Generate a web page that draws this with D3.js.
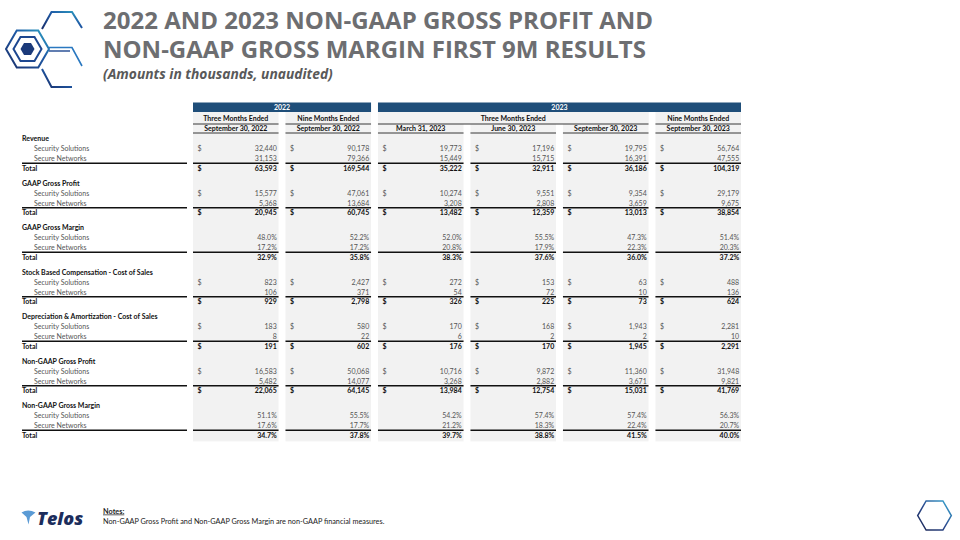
<!DOCTYPE html>
<html><head><meta charset="utf-8">
<script src="https://cdn.jsdelivr.net/npm/d3@7"></script>
<style>
html,body{margin:0;padding:0;background:#fff;}
svg{display:block;}
</style></head>
<body><svg id="c" width="960" height="540"></svg>
<script>
// ---------- data ----------
const titleLines = ["2022 AND 2023 NON-GAAP GROSS PROFIT AND", "NON-GAAP GROSS MARGIN FIRST 9M RESULTS"];
const years = ["2022", "2023"];
const periodLabels = ["Three Months Ended", "Nine Months Ended", "Three Months Ended", "Nine Months Ended"];
const dateLabels = ["September 30, 2022", "September 30, 2022", "March 31, 2023", "June 30, 2023", "September 30, 2023", "September 30, 2023"];
const sections = ["Revenue", "GAAP Gross Profit", "GAAP Gross Margin", "Stock Based Compensation - Cost of Sales", "Depreciation & Amortization - Cost of Sales", "Non-GAAP Gross Profit", "Non-GAAP Gross Margin"];
const subRows = ["Security Solutions", "Secure Networks"];
const sectionIsPct = [false, false, true, false, false, false, true];

const revenueSS = [32440, 90178, 19773, 17196, 19795, 56764];
const revenueSN = [31153, 79366, 15449, 15715, 16391, 47555];
const revenueTotal = [63593, 169544, 35222, 32911, 36186, 104319];
const gaapGPSS = [15577, 47061, 10274, 9551, 9354, 29179];
const gaapGPSN = [5368, 13684, 3208, 2808, 3659, 9675];
const gaapGPTotal = [20945, 60745, 13482, 12359, 13013, 38854];
const gaapGMSS = [48.0, 52.2, 52.0, 55.5, 47.3, 51.4];
const gaapGMSN = [17.2, 17.2, 20.8, 17.9, 22.3, 20.3];
const gaapGMTotal = [32.9, 35.8, 38.3, 37.6, 36.0, 37.2];
const sbcSS = [823, 2427, 272, 153, 63, 488];
const sbcSN = [106, 371, 54, 72, 10, 136];
const sbcTotal = [929, 2798, 326, 225, 73, 624];
const daSS = [183, 580, 170, 168, 1943, 2281];
const daSN = [8, 22, 6, 2, 2, 10];
const daTotal = [191, 602, 176, 170, 1945, 2291];
const ngGPSS = [16583, 50068, 10716, 9872, 11360, 31948];
const ngGPSN = [5482, 14077, 3268, 2882, 3671, 9821];
const ngGPTotal = [22065, 64145, 13984, 12754, 15031, 41769];
const ngGMSS = [51.1, 55.5, 54.2, 57.4, 57.4, 56.3];
const ngGMSN = [17.6, 17.7, 21.2, 18.3, 22.4, 20.7];
const ngGMTotal = [34.7, 37.8, 39.7, 38.8, 41.5, 40.0];

const sectionValues = [
  [revenueSS, revenueSN, revenueTotal],
  [gaapGPSS, gaapGPSN, gaapGPTotal],
  [gaapGMSS, gaapGMSN, gaapGMTotal],
  [sbcSS, sbcSN, sbcTotal],
  [daSS, daSN, daTotal],
  [ngGPSS, ngGPSN, ngGPTotal],
  [ngGMSS, ngGMSN, ngGMTotal]
];

// ---------- drawing ----------
const svg = d3.select("#c");
const FONT = "Lato, 'Noto Sans', sans-serif";
const fs = 7;

const defs = svg.append("defs");
const g1 = defs.append("linearGradient").attr("id","lg").attr("x1","0").attr("y1","1").attr("x2","1").attr("y2","0");
g1.append("stop").attr("offset","0").attr("stop-color","#1a2f6b");
g1.append("stop").attr("offset","0.6").attr("stop-color","#1f5aa6");
g1.append("stop").attr("offset","1").attr("stop-color","#2fa6c4");
const g2 = defs.append("linearGradient").attr("id","lg2").attr("x1","0").attr("y1","1").attr("x2","1").attr("y2","0");
g2.append("stop").attr("offset","0").attr("stop-color","#1a2350");
g2.append("stop").attr("offset","0.5").attr("stop-color","#2b4a8f");
g2.append("stop").attr("offset","1").attr("stop-color","#3ab0d8");

function hexPts(cx, cy, r) {
  return d3.range(6).map(i => {
    const a = Math.PI / 3 * i;
    return [cx + r * Math.cos(a), cy + r * Math.sin(a)];
  });
}
const line = d3.line();
const logo = svg.append("g");
logo.append("path").attr("d", line(hexPts(27.5, 49, 21.5)) + "Z").attr("fill","none").attr("stroke","url(#lg)").attr("stroke-width",2);
logo.append("path").attr("d", line(hexPts(27.5, 49, 14)) + "Z").attr("fill","none").attr("stroke","#1d4790").attr("stroke-width",2);
logo.append("path").attr("d", line(hexPts(27.5, 49, 7)) + "Z").attr("fill","#1b3a7a");
logo.append("path").attr("d", line([[42,29],[51.5,12],[72,12],[82,28]])).attr("fill","none").attr("stroke","url(#lg)").attr("stroke-width",2);
logo.append("path").attr("d", line([[49,47.5],[72,47.5],[82,66]])).attr("fill","none").attr("stroke","#2a78c0").attr("stroke-width",1.6);
logo.append("path").attr("d", line([[49,51],[70,51]])).attr("fill","none").attr("stroke","#1d4790").attr("stroke-width",1.4);
logo.append("path").attr("d", line([[42,69],[51.5,87],[72,87]])).attr("fill","none").attr("stroke","url(#lg)").attr("stroke-width",2);

// title (single text element, two lines)
const tcol = "#6d6e71";
const title = svg.append("text").attr("font-family","'Open Sans', sans-serif").attr("font-weight",700).attr("font-size",24).attr("fill",tcol);
title.selectAll("tspan").data(titleLines).join("tspan").attr("x",103).attr("y",(d,i) => 28.5 + i * 29.5).text(d => d);
svg.append("text").attr("x",103).attr("y",78.5).attr("font-family","'Open Sans', sans-serif").attr("font-weight",700).attr("font-style","italic").attr("font-size",13.8).attr("fill","#595959").text("(Amounts in thousands, unaudited)");

// table geometry
const colIdx = d3.range(6);
const x = d3.scaleBand().domain(colIdx).range([193, 741]).paddingInner(0.075);
const bw = x.bandwidth();
const rowH = 9.85, secH = 44.5, top0 = 134;
const rowY = (s, r) => top0 + s * secH + r * rowH;
const bodyBottom = rowY(6, 4) + 1;
const gray = "#f2f2f2", navy = "#1f4e79";
const tbl = svg.append("g").attr("font-family", FONT).attr("font-size", fs);

tbl.selectAll("rect.colbg").data(colIdx).join("rect").attr("class","colbg")
  .attr("x", d => x(d)).attr("y", 112).attr("width", bw).attr("height", bodyBottom - 112).attr("fill", gray);
tbl.append("rect").attr("x", x(2)).attr("y",112).attr("width", x(4)+bw-x(2)).attr("height",12).attr("fill",gray);

const yearSpans = [[0,1],[2,5]];
yearSpans.forEach((sp,i) => {
  const x0 = x(sp[0]), x1 = x(sp[1]) + bw;
  tbl.append("rect").attr("x",x0).attr("y",102.5).attr("width",x1-x0).attr("height",9.5).attr("fill",navy);
  tbl.append("text").attr("x",(x0+x1)/2).attr("y",110).attr("text-anchor","middle").attr("fill","#fff").attr("font-weight",700).text(years[i]);
});
const periodSpans = [[0,0],[1,1],[2,4],[5,5]];
periodSpans.forEach((sp,i) => {
  const x0 = x(sp[0]), x1 = x(sp[1]) + bw;
  tbl.append("text").attr("x",(x0+x1)/2).attr("y",121.3).attr("text-anchor","middle").attr("fill","#111").attr("font-weight",700).text(periodLabels[i]);
  tbl.append("line").attr("x1",x0).attr("x2",x1).attr("y1",124).attr("y2",124).attr("stroke","#222").attr("stroke-width",0.9);
});
colIdx.forEach(c => {
  tbl.append("text").attr("x",x(c)+bw/2).attr("y",131).attr("text-anchor","middle").attr("fill","#111").attr("font-weight",700).text(dateLabels[c]);
  tbl.append("line").attr("x1",x(c)).attr("x2",x(c)+bw).attr("y1",133).attr("y2",133).attr("stroke","#222").attr("stroke-width",0.9);
});

const fmtN = d3.format(",");
const fmtP = v => d3.format(".1f")(v) + "%";
const labelRight = 187;

sections.forEach((name, s) => {
  const base = (r) => rowY(s, r) + rowH/2 + 2.4;
  tbl.append("text").attr("x",22).attr("y",base(0)).attr("font-weight",700).attr("fill","#111").text(name);
  subRows.forEach((lab, k) => {
    tbl.append("text").attr("x",34).attr("y",base(k+1)).attr("fill","#555").text(lab);
  });
  tbl.append("text").attr("x",22).attr("y",base(3)).attr("font-weight",700).attr("fill","#111").text("Total");
  const ly = rowY(s, 3) - 0.3;
  tbl.append("line").attr("x1",22).attr("x2",labelRight).attr("y1",ly).attr("y2",ly).attr("stroke","#111").attr("stroke-width",1.5);
  colIdx.forEach(c => {
    tbl.append("line").attr("x1",x(c)).attr("x2",x(c)+bw).attr("y1",ly).attr("y2",ly).attr("stroke","#111").attr("stroke-width",1.5);
  });
  const vals = sectionValues[s];
  const pct = sectionIsPct[s];
  vals.forEach((arr, k) => {
    const r = k + 1;
    const bold = k === 2;
    const col = bold ? "#111" : "#555";
    tbl.selectAll(null).data(arr).join("text")
      .attr("x", (d,i) => x(i) + bw - 1.8).attr("y", base(r)).attr("text-anchor","end")
      .attr("font-weight", bold ? 700 : 400).attr("fill", col)
      .text(d => pct ? fmtP(d) : fmtN(d));
    if (!pct && k !== 1) {
      tbl.selectAll(null).data(arr).join("text")
        .attr("x", (d,i) => x(i) + 4.5).attr("y", base(r))
        .attr("font-weight", bold ? 700 : 400).attr("fill", col).text("$");
    }
  });
});

// Telos logo
svg.append("path").attr("d","M21.5,512.5 Q28,508.5 35.5,512.5 L30,517 L28.5,524.5 L26.5,517 Z").attr("fill","#5b9bd5");
svg.append("text").attr("x",37).attr("y",524.5).attr("font-family","'Open Sans', sans-serif").attr("font-weight",800).attr("font-style","italic").attr("font-size",18).attr("fill","#1c2d5c").text("Telos");

// notes
svg.append("text").attr("x",103).attr("y",513.5).attr("font-family",FONT).attr("font-size",7.3).attr("font-weight",700).attr("fill","#222").attr("text-decoration","underline").text("Notes:");
svg.append("text").attr("x",103).attr("y",523.5).attr("font-family",FONT).attr("font-size",7.3).attr("fill","#222").text("Non-GAAP Gross Profit and Non-GAAP Gross Margin are non-GAAP financial measures.");

// bottom-right hexagon
svg.append("path").attr("d", line(hexPts(934.5, 515.5, 16.8)) + "Z").attr("fill","none").attr("stroke","url(#lg2)").attr("stroke-width",1.5);
</script></body></html>
